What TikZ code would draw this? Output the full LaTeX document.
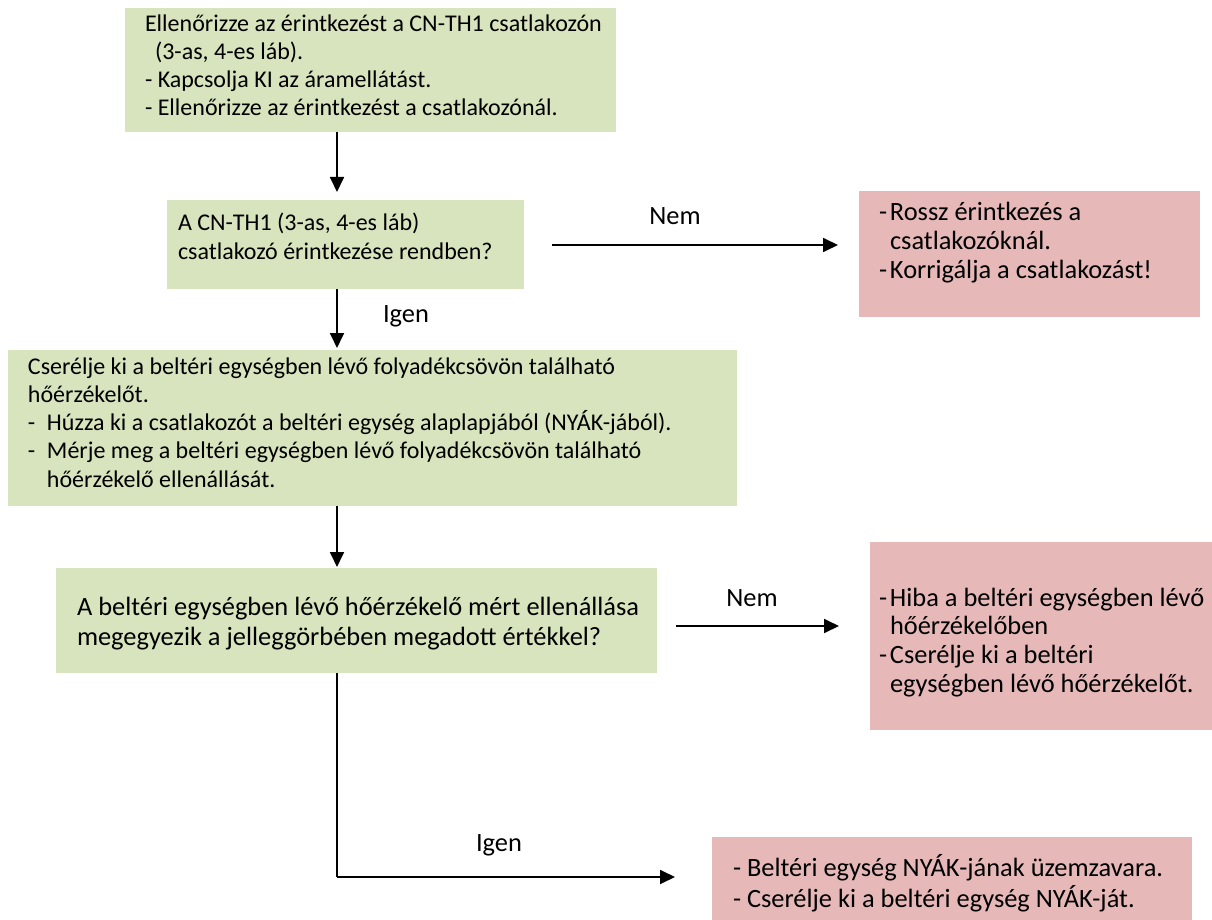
\documentclass[tikz,border=0pt]{standalone}
\usepackage{fontspec}
\setmainfont{Carlito}
\usetikzlibrary{arrows.meta}

\definecolor{stepgreen}{HTML}{D7E4BD}
\definecolor{faultred}{HTML}{E6B9B8}

% #1 width, #2 height, #3 left inset, #4 first baseline from top,
% #5 font size, #6 line spacing, #7 lines
\newcommand\boxbody[7]{%
  \parbox[c][#2][t]{#1}{\fontsize{#5}{#6}\selectfont
    \raggedright\leftskip=#3\relax\rule{0pt}{#4}#7}}
\newcommand\dashitem[2]{\makebox[#1][l]{-}#2}

\tikzset{
  panel/.style={rectangle, inner sep=0pt, outer sep=0pt, anchor=north west},
  stepbox/.style={panel, fill=stepgreen},
  faultbox/.style={panel, fill=faultred},
  flow/.style={line width=1.8pt, -{Triangle[length=15pt,width=14pt]}},
  plainline/.style={line width=1.8pt},
  answer/.style={anchor=base, inner sep=0pt, font=\fontsize{26.4}{30}\selectfont},
}

\begin{document}
\begin{tikzpicture}[x=1pt,y=-1pt]
\useasboundingbox (0,0) rectangle (1212,920);

% process steps and questions
\node[stepbox] (b1) at (125,8) {\boxbody{491pt}{124pt}{20pt}{24pt}{24}{28}{%
  Ellenőrizze az érintkezést a CN-TH1 csatlakozón\\
  \hspace*{10pt}(3-as, 4-es láb).\\
  - Kapcsolja KI az áramellátást.\\
  - Ellenőrizze az érintkezést a csatlakozónál.}};

\node[stepbox] (b2) at (167,200) {\boxbody{357pt}{89pt}{11pt}{30pt}{24}{29}{%
  A CN-TH1 (3-as, 4-es láb)\\
  csatlakozó érintkezése rendben?}};

\node[stepbox] (b3) at (8,350) {\boxbody{729pt}{156pt}{20pt}{24pt}{24}{28.3}{%
  Cserélje ki a beltéri egységben lévő folyadékcsövön található\\
  hőérzékelőt.\\
  \dashitem{19pt}{Húzza ki a csatlakozót a beltéri egység alaplapjából (NYÁK-jából).}\\
  \dashitem{19pt}{Mérje meg a beltéri egységben lévő folyadékcsövön található}\\
  \hspace*{19pt}hőérzékelő ellenállását.}};

\node[stepbox] (b4) at (56,568) {\boxbody{601pt}{105pt}{21pt}{47pt}{26.4}{30.5}{%
  A beltéri egységben lévő hőérzékelő mért ellenállása\\
  megegyezik a jelleggörbében megadott értékkel?}};

% diagnoses
\node[faultbox] (r1) at (859,191) {\boxbody{341pt}{126pt}{20pt}{29pt}{26.4}{29}{%
  \dashitem{11pt}{Rossz érintkezés a}\\
  \hspace*{11pt}csatlakozóknál.\\
  \dashitem{11pt}{Korrigálja a csatlakozást!}}};

\node[faultbox] (r2) at (870,542) {\boxbody{342pt}{188pt}{9pt}{64pt}{26.4}{28.8}{%
  \dashitem{11pt}{Hiba a beltéri egységben lévő}\\
  \hspace*{11pt}hőérzékelőben\\
  \dashitem{11pt}{Cserélje ki a beltéri}\\
  \hspace*{11pt}egységben lévő hőérzékelőt.}};

\node[faultbox] (r3) at (712,837) {\boxbody{480pt}{83pt}{21pt}{39pt}{26.4}{31}{%
  - Beltéri egység NYÁK-jának üzemzavara.\\
  - Cserélje ki a beltéri egység NYÁK-ját.}};

% connector geometry
\coordinate (spine) at (337,0);
\coordinate (no1end) at (838,245);
\coordinate (no1start) at (552,245);
\coordinate (no2start) at (676,626);
\coordinate (no2end) at (839,626);
\coordinate (yescorner) at (337,877);
\coordinate (yesend) at (675,877);

\draw[flow, shorten >=8pt] (b1.south -| spine) -- (b2.north -| spine);
\draw[flow, shorten >=2pt] (b2.south -| spine) -- (b3.north -| spine);
\draw[flow, shorten >=1pt] (b3.south -| spine) -- (b4.north -| spine);
\draw[flow] (no1start) -- (no1end);
\draw[flow] (no2start) -- (no2end);
\draw[plainline] (b4.south -| spine) -- (yescorner);
\draw[flow] (yescorner) -- (yesend);

% answer labels
\node[answer] (nem1) at (675,224) {Nem};
\node[answer] (igen1) at (406,322) {Igen};
\node[answer] (nem2) at (752,606) {Nem};
\node[answer] (igen2) at (499,851) {Igen};
\end{tikzpicture}
\end{document}
